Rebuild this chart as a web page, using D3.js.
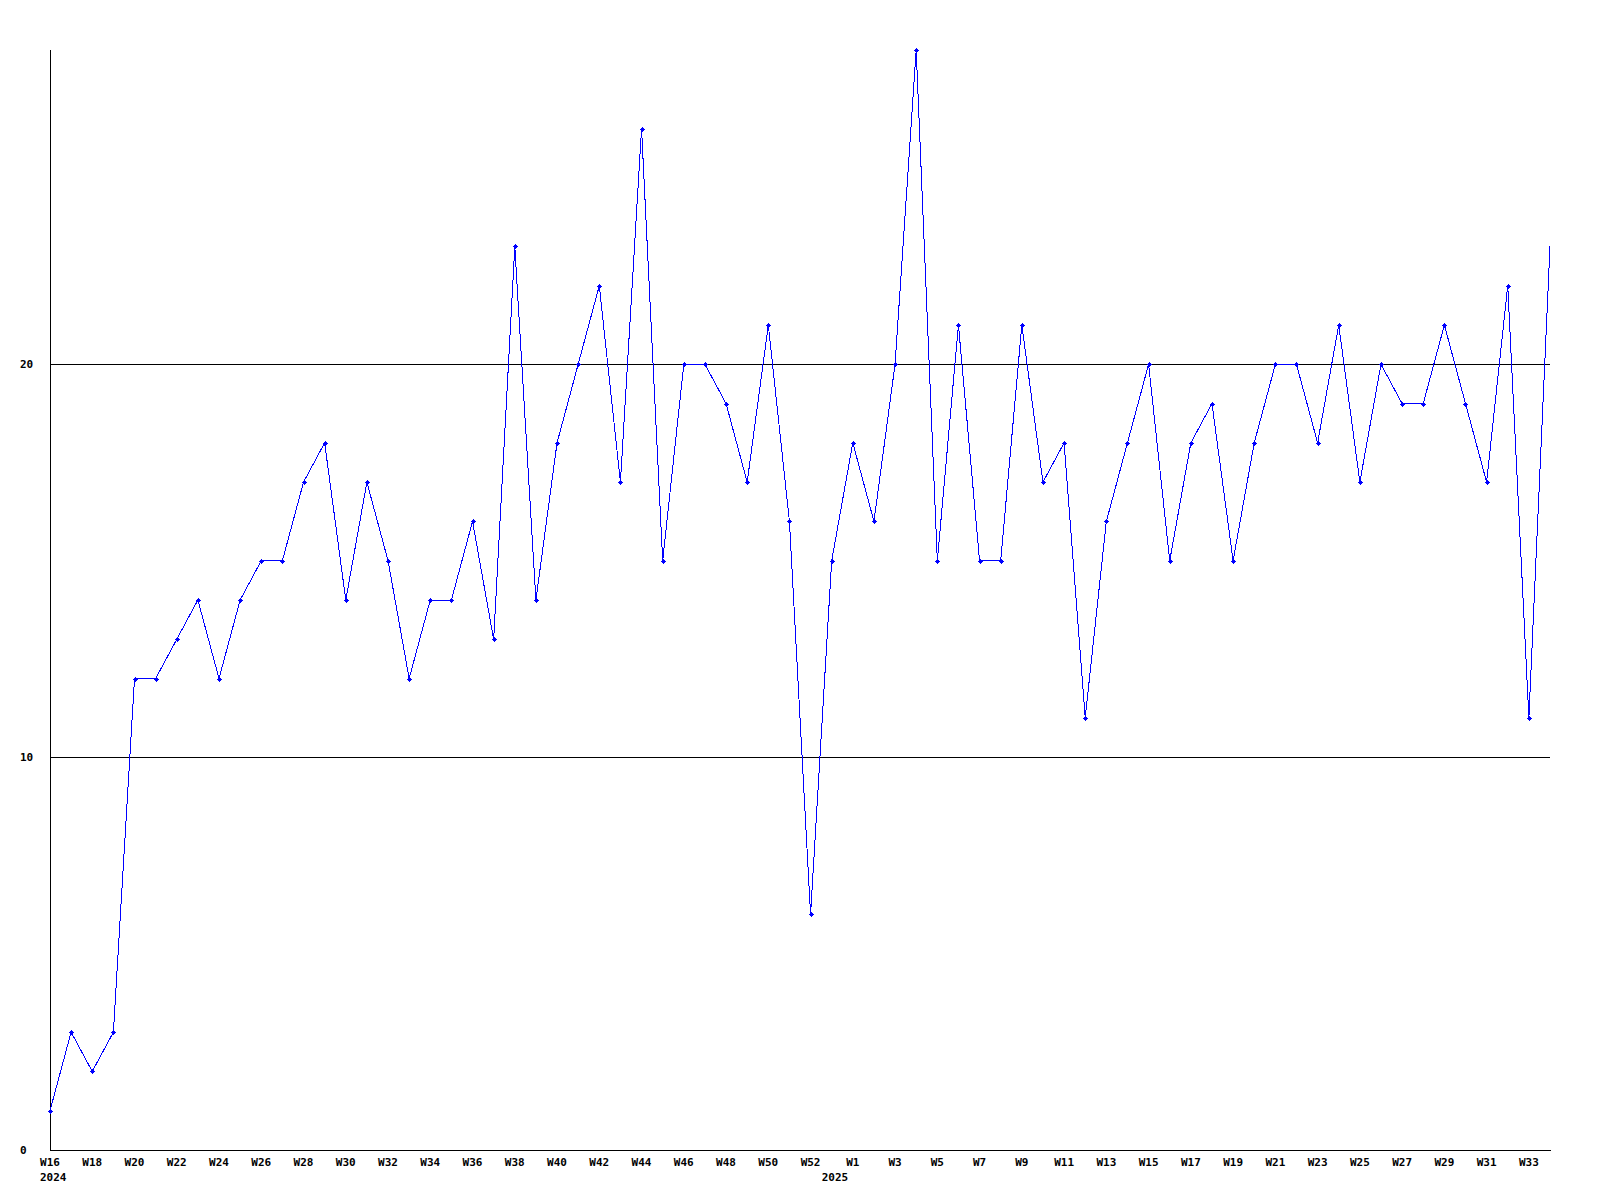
<!DOCTYPE html>
<html>
<head>
<meta charset="utf-8">
<script src="https://cdn.jsdelivr.net/npm/d3@7"></script>
<style>
html,body{margin:0;padding:0;background:#fff;}
svg text{font-family:"DejaVu Sans Mono","Liberation Mono",monospace;font-weight:bold;font-size:11px;fill:#000;}
</style>
</head>
<body>
<svg id="chart" width="1600" height="1200"></svg>
<script>
// Week labels (index 37 is the partial first week of 2025)
const weeks = ["W16","W17","W18","W19","W20","W21","W22","W23","W24","W25","W26","W27","W28","W29","W30","W31","W32","W33","W34","W35","W36","W37","W38","W39","W40","W41","W42","W43","W44","W45","W46","W47","W48","W49","W50","W51","W52",
  "W0","W1","W2","W3","W4","W5","W6","W7","W8","W9","W10","W11","W12","W13","W14","W15","W16","W17","W18","W19","W20","W21","W22","W23","W24","W25","W26","W27","W28","W29","W30","W31","W32","W33","W34"];
const yearLabels = [{index:0, label:"2024"}, {index:37, label:"2025"}];
const values = [1,3,2,3,12,12,13,14,12,14,15,15,17,18,14,17,15,12,14,14,16,13,23,14,18,20,22,17,26,15,20,20,19,17,21,16,6,
  15,18,16,20,28,15,21,15,15,21,17,18,11,16,18,20,15,18,19,15,18,20,20,18,21,17,20,19,19,21,19,17,22,11,23];
const yTicks = [0,10,20];
const yMax = 28;

(function(){
const svg = d3.select("#chart");
const mLeft = 50, mRight = 1550, mTop = 50, mBottom = 1150;
const x = d3.scaleLinear().domain([0, values.length - 1]).range([mLeft, mRight]);
const y = d3.scaleLinear().domain([0, yMax]).range([mBottom, mTop]);

// gridlines
svg.selectAll("line.grid").data(yTicks.filter(d => d > 0)).enter().append("line")
  .attr("x1", mLeft).attr("x2", mRight)
  .attr("y1", d => Math.round(y(d)) + 0.5).attr("y2", d => Math.round(y(d)) + 0.5)
  .attr("stroke", "#000").attr("stroke-width", 1).attr("shape-rendering", "crispEdges");

// axes
svg.append("line").attr("x1", mLeft + 0.5).attr("x2", mLeft + 0.5).attr("y1", mTop).attr("y2", mBottom + 1)
  .attr("stroke", "#000").attr("shape-rendering", "crispEdges");
svg.append("line").attr("x1", mLeft).attr("x2", mRight + 1).attr("y1", mBottom + 0.5).attr("y2", mBottom + 0.5)
  .attr("stroke", "#000").attr("shape-rendering", "crispEdges");

// y labels
svg.selectAll("text.ylab").data(yTicks).enter().append("text")
  .attr("x", 20).attr("y", d => y(d) + 4)
  .text(d => d);

// x labels (every other week)
svg.selectAll("text.xlab").data(weeks.map((w, i) => ({w, i})).filter(d => d.i % 2 === 0)).enter().append("text")
  .attr("x", d => x(d.i)).attr("y", 1166).attr("text-anchor", "middle")
  .text(d => d.w);

// year labels
svg.selectAll("text.year").data(yearLabels).enter().append("text")
  .attr("x", d => x(d.index) - 10).attr("y", 1181)
  .text(d => d.label);

// line
const line = d3.line().x((d, i) => x(i)).y(d => y(d));
svg.append("path").datum(values).attr("d", line)
  .attr("fill", "none").attr("stroke", "#0000ff").attr("stroke-width", 1)
  .attr("shape-rendering", "crispEdges");

// markers (small plus blobs), none on the final clipped point
const mk = svg.append("g").attr("fill", "#0000ff").attr("shape-rendering", "crispEdges");
values.forEach((v, i) => {
  if (i === values.length - 1) return;
  const cx = Math.round(x(i)), cy = Math.round(y(v));
  mk.append("rect").attr("x", cx - 1).attr("y", cy - 1).attr("width", 3).attr("height", 3);
  mk.append("rect").attr("x", cx - 2).attr("y", cy).attr("width", 5).attr("height", 1);
  mk.append("rect").attr("x", cx).attr("y", cy - 2).attr("width", 1).attr("height", 5);
});
})();
</script>
</body>
</html>
